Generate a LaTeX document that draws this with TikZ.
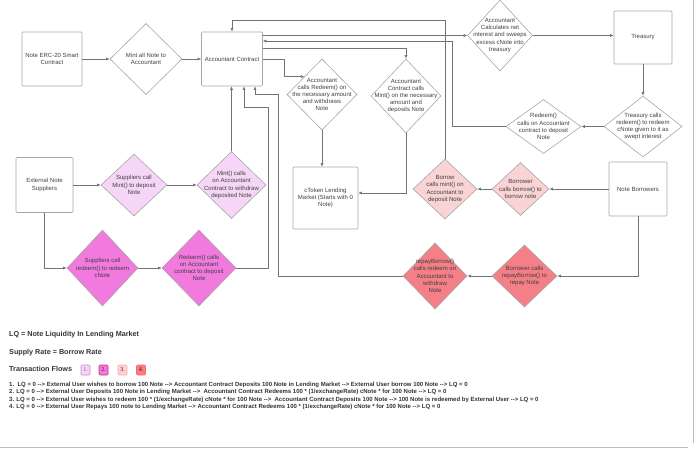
\documentclass[tikz,border=0pt]{standalone}
\usepackage{fontspec}
\setmainfont{Liberation Sans}
\newfontfamily\numfont{Liberation Serif}
\usetikzlibrary{shapes.geometric,arrows.meta,calc}

\definecolor{flowone}{HTML}{F6D6F6}
\definecolor{flowtwo}{HTML}{F27ADF}
\definecolor{flowthree}{HTML}{FAD3D5}
\definecolor{flowfour}{HTML}{F47F87}
\newcommand{\arrtxt}{-{}->}

\begin{document}
\begin{tikzpicture}[x=1pt,y=-1pt,
        blk/.style={draw=black!35, rounded corners=1pt, line width=0.6pt},
        dec/.style={diamond, draw=black!35, line width=0.6pt, inner sep=0pt},
        txt/.style={align=center, text=black!75, font=\fontsize{6}{7.2}\selectfont},
        flow/.style={draw=black!55, line width=0.6pt, -{Latex[length=3.5pt,width=3pt]}},
        head/.style={text=black!80, font=\fontsize{7.2}{8.4}\selectfont\bfseries, inner sep=0pt},
        lst/.style={text=black!80, font=\fontsize{6}{7}\selectfont\bfseries, inner sep=0pt},
        key/.style={minimum width=9pt, minimum height=10pt, inner sep=0pt, rounded corners=1pt, line width=0.6pt, font=\fontsize{6}{7}\selectfont\numfont}]
        \useasboundingbox (0,0) rectangle (696,452);

        % page edge
        \draw[black!25, line width=1pt] (693,0) -- (693,443);
        \draw[black!25, line width=1pt] (0,447) -- (688,447);

	% top row
	\node[blk, txt, minimum width=58pt, minimum height=54pt] (erc) at (52,59) {Note ERC-20 Smart\\Contract};
	\node[dec, minimum width=72pt, minimum height=71pt, label={[txt]center:Mint all Note to\\Accountant}] (mintall) at (146,59) {};
	\node[blk, txt, minimum width=58pt, minimum height=54pt] (acc) at (232,59) {Accountant Contract};
	\node[dec, minimum width=70pt, minimum height=71pt, label={[txt]center:Accountant\\calls Redeem() on\\the necessary amount\\and withdraws\\Note}] (accred) at (322,94.5) {};
	\node[dec, minimum width=70pt, minimum height=74pt, label={[txt]center:Accountant\\Contract calls\\Mint() on the necessary\\amount and\\deposits Note}] (accmint) at (406,96) {};
	\node[dec, minimum width=65pt, minimum height=71pt, label={[txt]center:Accountant\\Calculates net\\interest and sweeps\\excess cNote into\\treasury}] (calc) at (500,35.5) {};
	\node[blk, txt, minimum width=58pt, minimum height=53pt] (treas) at (643,37.5) {Treasury};
	\node[dec, minimum width=78pt, minimum height=61pt, label={[txt]center:Treasury calls\\redeem() to redeem\\cNote given to it as\\swept interest}] (tcalls) at (643,126.5) {};
	\node[dec, minimum width=75pt, minimum height=54pt, label={[txt]center:Redeem()\\calls on Accountant\\contract to deposit\\Note}] (redt) at (543.5,126.5) {};
	\node[blk, txt, minimum width=65pt, minimum height=62pt] (ctoken) at (325.5,198) {cToken Lending\\Market (Starts with 0\\Note)};

	% suppliers
	\node[blk, txt, minimum width=57pt, minimum height=55pt] (ext) at (44.5,185) {External Note\\Suppliers};
	\node[dec, fill=flowone, minimum width=66pt, minimum height=62pt, label={[txt]center:Suppliers call\\Mint() to deposit\\Note}] (supmint) at (134,185) {};
	\node[dec, fill=flowone, minimum width=69pt, minimum height=67pt, label={[txt]center:Mint() calls\\on Accountant\\Contract to withdraw\\deposited Note}] (mintc) at (231.5,185) {};
	\node[dec, fill=flowtwo, minimum width=71pt, minimum height=76pt, label={[txt]center:Suppliers call\\redeem() to redeem\\cNote}] (supred) at (102.5,268) {};
	\node[dec, fill=flowtwo, minimum width=74pt, minimum height=76pt, label={[txt]center:Redeem() calls\\on Accountant\\contract to deposit\\Note}] (redc) at (199,268) {};

	% borrowers
	\node[dec, fill=flowthree, minimum width=64pt, minimum height=60pt, label={[txt]center:Borrow\\calls mint() on\\Accountant to\\deposit Note}] (bmint) at (445,189) {};
	\node[dec, fill=flowthree, minimum width=57pt, minimum height=53pt, label={[txt]center:Borrower\\calls borrow() to\\borrow note}] (bcall) at (520.5,189) {};
	\node[blk, txt, minimum width=58pt, minimum height=54pt] (nb) at (638,189) {Note Borrowers};
	\node[dec, fill=flowfour, minimum width=64pt, minimum height=66pt, label={[txt]center:repayBorrow()\\calls redeem on\\Accountant to\\withdraw\\Note}] (repayb) at (435,276) {};
	\node[dec, fill=flowfour, minimum width=65pt, minimum height=62pt, label={[txt]center:Borrower calls\\repayBorrow() to\\repay Note}] (repay) at (524.5,276) {};

	% connectors
	\draw[flow] (erc) -- (mintall);
	\draw[flow] (mintall) -- (acc);
	\draw[flow] (acc.east) -- ++(21,0) |- ($(accred.west)!.5!(accred.north)$);
	\draw[flow] ([yshift=11pt]acc.east) -| (accmint.north);
	\draw[flow] (acc.east |- calc.west) -- (calc.west);
	\draw[flow] (redt.west) -- ++(-53,0) |- ([yshift=18pt]acc.east);
	\draw[flow] (calc.east) -- (calc.east -| treas.west);
	\draw[flow] (treas) -- (tcalls);
	\draw[flow] (tcalls) -- (redt);
	\draw[flow] (accred.south) -- (accred.south |- ctoken.north);
	\draw[flow] (accmint.south) |- ([yshift=5pt]ctoken.east);
	\draw[flow] (bmint.north) |- ([yshift=11pt]acc.north) -- (acc.north);

	\draw[flow] (ext) -- (supmint);
	\draw[flow] (supmint) -- (mintc);
	\draw[flow] (mintc.north) -- (mintc.north |- acc.south);
	\draw[flow] (ext.south) |- (supred.west);
	\draw[flow] (supred) -- (redc);
	\draw[flow] (redc.east) -| ([shift={(36pt,-21pt)}]acc.south) -| ([xshift=12pt]acc.south);

	\draw[flow] (nb) -- (bcall);
	\draw[flow] (bcall) -- (bmint);
	\draw[flow] (nb.south) |- (repay.east);
	\draw[flow] (repay) -- (repayb);
	\draw[flow] (repayb.west) -| ([shift={(46pt,-8pt)}]acc.south) -| ([xshift=23pt]acc.south);

	% legend
	\node[head, anchor=base west] (lq) at (9,336.5) {LQ = Note Liquidity In Lending Market};
	\node[head, anchor=base west] (rate) at (9,354) {Supply Rate = Borrow Rate};
	\node[head, anchor=base west] (tflows) at (9,371.5) {Transaction Flows};
	\node[key, fill=flowone, draw=violet!45, text=violet!70] (k1) at (85.5,370) {1.};
	\node[key, fill=flowtwo, draw=magenta!70!black, text=violet!80!black] (k2) at (103.5,370) {2.};
	\node[key, fill=flowthree, draw=red!35, text=red!50!black] (k3) at (122.5,370) {3.};
	\node[key, fill=flowfour, draw=red!60, text=red!40!black] (k4) at (141,370) {4.};

	\node[lst, anchor=base west] (f1) at (9,386) {1.\ \ LQ = 0 \arrtxt{} External User wishes to borrow 100 Note \arrtxt{} Accountant Contract Deposits 100 Note in Lending Market \arrtxt{} External User borrow 100 Note \arrtxt{} LQ = 0};
	\node[lst, anchor=base west] (f2) at (9,393.5) {2. LQ = 0 \arrtxt{} External User Deposits 100 Note in Lending Market \arrtxt{}\ \ Accountant Contract Redeems 100 * (1/exchangeRate) cNote * for 100 Note \arrtxt{} LQ = 0};
	\node[lst, anchor=base west] (f3) at (9,401) {3. LQ = 0 \arrtxt{} External User wishes to redeem 100 * (1/exchangeRate) cNote * for 100 Note \arrtxt{}\ \ Accountant Contract Deposits 100 Note \arrtxt{} 100 Note is redeemed by External User \arrtxt{} LQ = 0};
	\node[lst, anchor=base west] (f4) at (9,408.5) {4. LQ = 0 \arrtxt{} External User Repays 100 note to Lending Market \arrtxt{} Accountant Contract Redeems 100 * (1/exchangeRate) cNote * for 100 Note \arrtxt{} LQ = 0};
\end{tikzpicture}
\end{document}
